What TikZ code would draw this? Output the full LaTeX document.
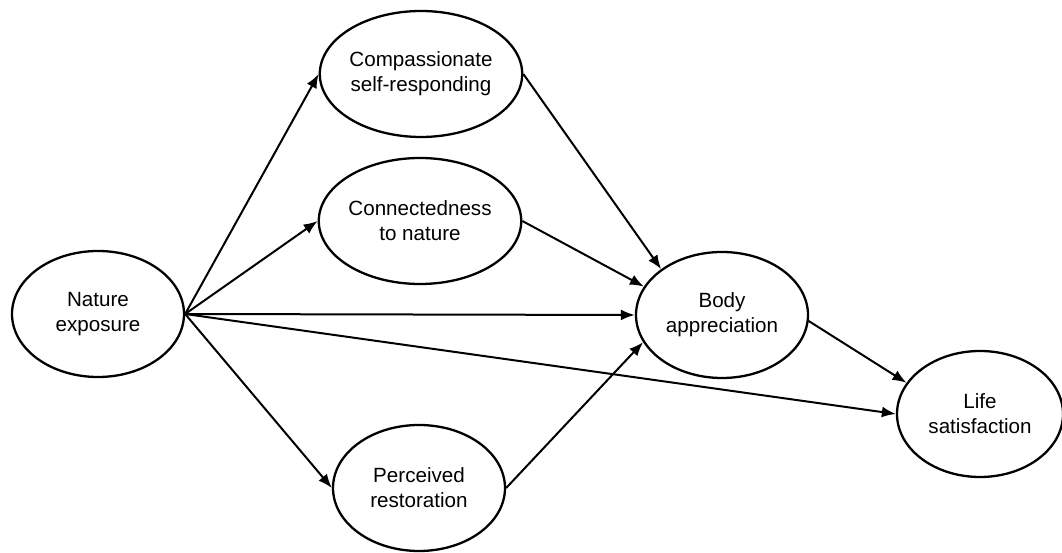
\documentclass[tikz,border=0pt]{standalone}
\usepackage{fontspec}
\setmainfont{Liberation Sans}
\usetikzlibrary{arrows.meta,shapes.geometric}
\begin{document}
\begin{tikzpicture}[x=1pt,y=1pt,
  var/.style={draw=black, line width=2.3pt, ellipse, minimum width=172pt, minimum height=126pt, inner sep=0pt, align=center, font=\fontsize{20.6}{25}\selectfont},
  arr/.style={line width=2pt, -{Latex[length=14pt,width=11pt]}}]
\useasboundingbox (0,0) rectangle (1062,553);
\node[var] (ne) at (98,239) {Nature\\exposure};
\node[var] (cs) at (421,479) {Compassionate\\self-responding};
\node[var] (cn) at (420,332) {Connectedness\\to nature};
\node[var] (pr) at (419,65) {Perceived\\restoration};
\node[var] (ba) at (722,238) {Body\\appreciation};
\node[var, minimum width=166pt] (ls) at (980,139) {Life\\satisfaction};
\draw[arr] (ne.east) -- (cs.west);
\draw[arr] (ne.east) -- (cn.west);
\draw[arr] (ne.east) -- (ba.west);
\draw[arr] (ne.east) -- (ls.west);
\draw[arr] (ne.east) -- (pr.west);
\draw[arr] (cs.east) -- (ba.143);
\draw[arr] (cn.east) -- (ba.160);
\draw[arr] (pr.east) -- (ba.199);
\draw[arr] (ba.-4) -- (ls.157);
\end{tikzpicture}
\end{document}
